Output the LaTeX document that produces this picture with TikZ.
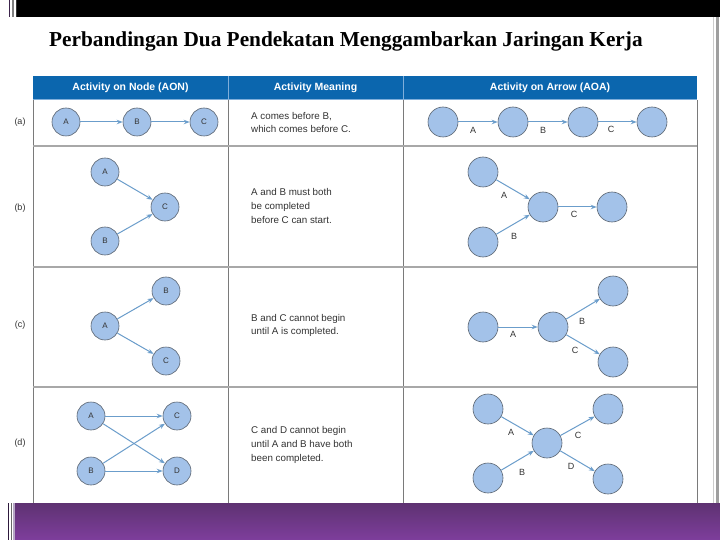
\documentclass[tikz,border=0pt]{standalone}
\usepackage{fontspec}
\setmainfont{Liberation Sans}
\newfontfamily\titlefont{Liberation Serif}
\usetikzlibrary{arrows.meta}
\definecolor{hdrblue}{HTML}{0B66AE}
\definecolor{hdrline}{HTML}{7FAEDA}
\definecolor{nodeblue}{HTML}{A3C2E9}
\definecolor{arrblue}{HTML}{6B9DCB}
\definecolor{nodeedge}{HTML}{5A6470}
\definecolor{purpA}{HTML}{5E3272}
\definecolor{purpB}{HTML}{7E3E9C}
\definecolor{rowline}{HTML}{A8A8A8}
\definecolor{colline}{HTML}{7A7A7A}
\definecolor{txtgray}{HTML}{333333}
\begin{document}
\begin{tikzpicture}[x=1pt,y=-1pt,
  aon/.style={circle,draw=nodeedge,line width=0.6pt,fill=nodeblue,minimum size=28pt,inner sep=0pt,
    font=\fontsize{8}{8}\selectfont,text=txtgray},
  aoa/.style={circle,draw=nodeedge,line width=0.6pt,fill=nodeblue,minimum size=30pt,inner sep=0pt},
  arr/.style={draw=arrblue,line width=1pt,-{Stealth[length=6pt,width=4.5pt]}},
  elab/.style={font=\fontsize{9}{9}\selectfont,text=txtgray,inner sep=0pt},
  mean/.style={anchor=west,align=left,font=\fontsize{9.8}{13.8}\selectfont,text=txtgray,inner sep=0pt},
  rlab/.style={font=\fontsize{9}{9}\selectfont,text=txtgray,inner sep=0pt},
  hdr/.style={font=\fontsize{10.5}{10.5}\selectfont\bfseries,text=white,inner sep=0pt}]
\useasboundingbox (0,0) rectangle (720,540);
\fill[white] (0,0) rectangle (720,540);
% top black bar and left lines
\fill[black] (17,0) rectangle (720,17);
\draw[line width=1.2pt,color={rgb,255:red,60;green,35;blue,75}] (9.5,0) -- (9.5,17);
\draw[line width=1.2pt,color=gray] (13,0) -- (13,17);
\draw[line width=1pt,color=black!80] (16,0) -- (16,17);
% right border
\draw[line width=0.5pt,color=gray!40] (713.5,17) -- (713.5,503);
\draw[line width=2.5pt,color=gray!75] (717.5,17) -- (717.5,503);
% bottom purple bar
\shade[top color=purpA,bottom color=purpB] (15,503) rectangle (720,540);
\draw[line width=1.2pt,color={rgb,255:red,45;green,25;blue,60}] (8.5,503) -- (8.5,540);
\draw[line width=1pt,color=gray!80!black] (11.5,503) -- (11.5,540);
\draw[line width=1.5pt,color={rgb,255:red,180;green,165;blue,195}] (14,503) -- (14,540);
% title
\node[font=\titlefont\fontsize{21.3}{21.3}\selectfont\bfseries,anchor=west,inner sep=0pt] (title) at (49,41)
  {Perbandingan Dua Pendekatan Menggambarkan Jaringan Kerja};
% table
\fill[hdrblue] (33,76) rectangle (697,99);
\draw[hdrline,line width=0.5pt] (228,76) -- (228,99) (403,76) -- (403,99);
\draw[hdrline,line width=1.2pt] (33,99.5) -- (697,99.5);
\node[hdr] (h1) at (130.5,88) {Activity on Node (AON)};
\node[hdr] (h2) at (315.5,88) {Activity Meaning};
\node[hdr] (h3) at (550,88) {Activity on Arrow (AOA)};
\draw[colline,line width=0.6pt] (33,100) -- (33,503) (228,100) -- (228,503) (403,100) -- (403,503) (697,100) -- (697,503);
\draw[rowline,line width=1.5pt] (33,146) -- (697,146) (33,267) -- (697,267) (33,387) -- (697,387);
% row labels
\node[rlab] (ra) at (20,122) {(a)};
\node[rlab] (rb) at (20,208) {(b)};
\node[rlab] (rc) at (20,325) {(c)};
\node[rlab] (rd) at (20,443) {(d)};
% meanings
\node[mean] (ma) at (251,122.5) {A comes before B,\\which comes before C.};
\node[mean] (mb) at (251,206) {A and B must both\\be completed\\before C can start.};
\node[mean] (mc) at (251,325.5) {B and C cannot begin\\until A is completed.};
\node[mean] (md) at (251,445) {C and D cannot begin\\until A and B have both\\been completed.};
% AON row a
\node[aon] (a1) at (66,122) {A};
\node[aon] (a2) at (137,122) {B};
\node[aon] (a3) at (204,122) {C};
\draw[arr] (a1) -- (a2);
\draw[arr] (a2) -- (a3);
% AON row b
\node[aon] (b1) at (105,172) {A};
\node[aon] (b2) at (105,241) {B};
\node[aon] (b3) at (165,207) {C};
\draw[arr] (b1) -- (b3);
\draw[arr] (b2) -- (b3);
% AON row c
\node[aon] (c1) at (105,326) {A};
\node[aon] (c2) at (166,291) {B};
\node[aon] (c3) at (166,361) {C};
\draw[arr] (c1) -- (c2);
\draw[arr] (c1) -- (c3);
% AON row d
\node[aon] (d1) at (91,416) {A};
\node[aon] (d2) at (91,471) {B};
\node[aon] (d3) at (177,416) {C};
\node[aon] (d4) at (177,471) {D};
\draw[arr] (d1) -- (d3);
\draw[arr] (d1) -- (d4);
\draw[arr] (d2) -- (d3);
\draw[arr] (d2) -- (d4);
% AOA row a
\node[aoa] (ea1) at (443,122) {};
\node[aoa] (ea2) at (513,122) {};
\node[aoa] (ea3) at (583,122) {};
\node[aoa] (ea4) at (652,122) {};
\draw[arr] (ea1) -- (ea2);
\draw[arr] (ea2) -- (ea3);
\draw[arr] (ea3) -- (ea4);
\node[elab] (la1) at (473,130) {A};
\node[elab] (la2) at (543,130) {B};
\node[elab] (la3) at (611,129) {C};
% AOA row b
\node[aoa] (eb1) at (483,172) {};
\node[aoa] (eb2) at (483,242) {};
\node[aoa] (eb3) at (543,207) {};
\node[aoa] (eb4) at (612,207) {};
\draw[arr] (eb1) -- (eb3);
\draw[arr] (eb2) -- (eb3);
\draw[arr] (eb3) -- (eb4);
\node[elab] (lb1) at (504,195) {A};
\node[elab] (lb2) at (514,236) {B};
\node[elab] (lb3) at (574,214) {C};
% AOA row c
\node[aoa] (ec1) at (483,327) {};
\node[aoa] (ec2) at (553,327) {};
\node[aoa] (ec3) at (613,291) {};
\node[aoa] (ec4) at (613,362) {};
\draw[arr] (ec1) -- (ec2);
\draw[arr] (ec2) -- (ec3);
\draw[arr] (ec2) -- (ec4);
\node[elab] (lc1) at (513,334) {A};
\node[elab] (lc2) at (582,321) {B};
\node[elab] (lc3) at (575,350) {C};
% AOA row d
\node[aoa] (ed1) at (488,409) {};
\node[aoa] (ed2) at (488,478) {};
\node[aoa] (ed3) at (547,443) {};
\node[aoa] (ed4) at (608,409) {};
\node[aoa] (ed5) at (608,479) {};
\draw[arr] (ed1) -- (ed3);
\draw[arr] (ed2) -- (ed3);
\draw[arr] (ed3) -- (ed4);
\draw[arr] (ed3) -- (ed5);
\node[elab] (ld1) at (511,432) {A};
\node[elab] (ld2) at (522,472) {B};
\node[elab] (ld3) at (578,435) {C};
\node[elab] (ld4) at (571,466) {D};
\end{tikzpicture}
\end{document}
